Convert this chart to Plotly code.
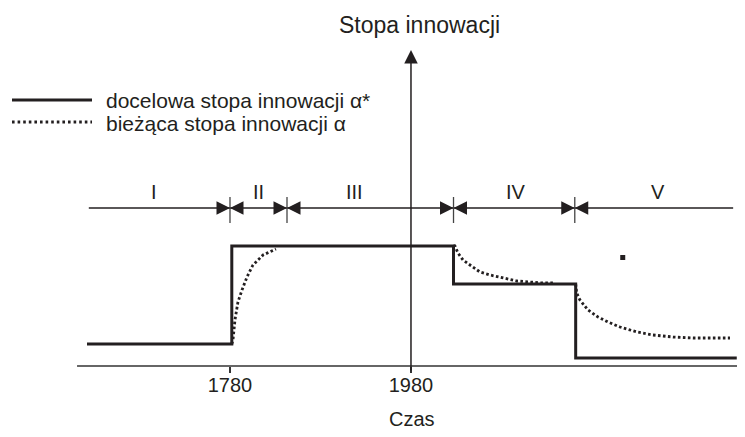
import plotly.graph_objects as go

# ---------------- data ----------------
# time axis (years, schematic) and innovation-rate level (arbitrary units)
tick_years = [1780, 1980]
tick_labels = ["1780", "1980"]

# target innovation rate  alpha*  (step function)
target_x = [1622, 1782, 1782, 2027, 2027, 2162, 2162, 2340]
target_y = [2.2, 2.2, 12.0, 12.0, 8.2, 8.2, 0.8, 0.8]

# current innovation rate  alpha  (three adjustment curves)
cur1_x = [1782, 1783.3, 1785.5, 1788.8, 1793.3, 1798.8, 1805.4, 1816.5, 1830.8]
cur1_y = [2.2, 2.6, 4.6, 6.4, 7.6, 8.9, 10.1, 11.1, 11.7]
cur2_x = [2027, 2028.6, 2031.9, 2037.5, 2045.2, 2056.2, 2067.3, 2081.7, 2097.1, 2111.5, 2125.9, 2136.9]
cur2_y = [12.0, 12.0, 11.3, 10.6, 10.1, 9.4, 9.1, 8.8, 8.5, 8.4, 8.3, 8.3]
cur3_x = [2162, 2163.1, 2166.7, 2175.6, 2186.6, 2197.7, 2211.0, 2229.7, 2247.4, 2269.5, 2291.6, 2313.7, 2332.5]
cur3_y = [8.2, 7.3, 6.6, 5.6, 4.9, 4.4, 3.9, 3.4, 3.1, 2.9, 2.8, 2.8, 2.8]

# phases
phase_start, phase_end = 1624, 2336
phase_level = 15.8
phase_separators = [1780, 1843, 2027, 2161]
phase_names = ["I", "II", "III", "IV", "V"]
phase_label_x = [1696, 1811, 1918, 2096, 2253]
phase_label_y = 17.4

# small square mark
mark_x, mark_y = [2214], [10.85]

# axes extents
xaxis_start, xaxis_end = 1611, 2348
yaxis_x, yaxis_bottom, yaxis_top = 1980, -0.6, 31.6

# figure is placed by the page 8 px from the top-left corner
W, H = 737, 429
x_range = [1534.7, 2349.1]
y_range = [-7.1, 35.8]

INK = "#231f20"
FONT = "Liberation Sans, Arial, sans-serif"


def px(v):
    return (v - 8) / W


def py(v):
    return 1 - (v - 8) / H


fig = go.Figure()

# x axis line + end tick
fig.add_trace(go.Scatter(x=[xaxis_start, xaxis_end], y=[0, 0], mode="lines",
                         line=dict(color="#333333", width=1.5), hoverinfo="skip", showlegend=False))
fig.add_trace(go.Scatter(x=[xaxis_end, xaxis_end], y=[-0.7, 0.7], mode="lines",
                         line=dict(color="#333333", width=1.5), hoverinfo="skip", showlegend=False))

# phase line with separators
fig.add_trace(go.Scatter(x=[phase_start, phase_end], y=[phase_level, phase_level], mode="lines",
                         line=dict(color=INK, width=1.5), hoverinfo="skip", showlegend=False))
sep_x, sep_y = [], []
for s in phase_separators:
    sep_x += [s, s, None]
    sep_y += [phase_level - 1.5, phase_level + 1.1, None]
fig.add_trace(go.Scatter(x=sep_x, y=sep_y, mode="lines",
                         line=dict(color="#444444", width=1.3), hoverinfo="skip", showlegend=False))

# current rate (dotted)
cur_x = cur1_x + [None] + cur2_x + [None] + cur3_x
cur_y = cur1_y + [None] + cur2_y + [None] + cur3_y
fig.add_trace(go.Scatter(x=cur_x, y=cur_y, mode="lines", connectgaps=False,
                         name="bieżąca stopa innowacji α",
                         line=dict(color=INK, width=2.8, dash="2.6px,2.4px"), showlegend=False))

# target rate (solid)
fig.add_trace(go.Scatter(x=target_x, y=target_y, mode="lines",
                         name="docelowa stopa innowacji α*",
                         line=dict(color=INK, width=3), showlegend=False))

# small square
fig.add_trace(go.Scatter(x=mark_x, y=mark_y, mode="markers",
                         marker=dict(symbol="square", size=5, color=INK), hoverinfo="skip",
                         showlegend=False))

annotations = []
# y axis arrow
annotations.append(dict(x=yaxis_x, y=yaxis_top, ax=yaxis_x, ay=yaxis_bottom,
                        xref="x", yref="y", axref="x", ayref="y", text="",
                        showarrow=True, arrowhead=2, arrowsize=1.8, arrowwidth=1.5,
                        arrowcolor=INK))
# phase arrowheads
for s in phase_separators:
    for off in (-14, 14):
        annotations.append(dict(x=s, y=phase_level, ax=off, ay=0, xref="x", yref="y",
                                text="", showarrow=True, arrowhead=2, arrowsize=1.8,
                                arrowwidth=1.5, arrowcolor=INK))
# phase labels
for name, lx in zip(phase_names, phase_label_x):
    annotations.append(dict(x=lx, y=phase_label_y, xref="x", yref="y", text=name,
                            showarrow=False, font=dict(family=FONT, size=20, color=INK)))
# y title
annotations.append(dict(x=1989, y=34.1, xref="x", yref="y", text="Stopa innowacji",
                        showarrow=False, font=dict(family=FONT, size=23, color=INK)))
# x title
annotations.append(dict(x=1981, y=-5.3, xref="x", yref="y", text="Czas",
                        showarrow=False, font=dict(family=FONT, size=20, color=INK)))
# legend texts
annotations.append(dict(x=px(104), y=py(100), xref="paper", yref="paper",
                        xanchor="left", yanchor="middle", text="docelowa stopa innowacji α*",
                        showarrow=False, font=dict(family=FONT, size=21, color=INK)))
annotations.append(dict(x=px(104), y=py(123), xref="paper", yref="paper",
                        xanchor="left", yanchor="middle", text="bieżąca stopa innowacji α",
                        showarrow=False, font=dict(family=FONT, size=21, color=INK)))

shapes = [
    dict(type="line", xref="paper", yref="paper", x0=px(12), x1=px(92),
         y0=py(100), y1=py(100), line=dict(color=INK, width=3)),
    dict(type="line", xref="paper", yref="paper", x0=px(12), x1=px(92),
         y0=py(122), y1=py(122), line=dict(color=INK, width=2.8, dash="2.6px,3px")),
]

fig.update_layout(
    width=W, height=H,
    margin=dict(l=0, r=0, t=0, b=0),
    paper_bgcolor="white", plot_bgcolor="white",
    showlegend=False,
    annotations=annotations, shapes=shapes,
    xaxis=dict(range=x_range, anchor="free",
               position=(0 - y_range[0]) / (y_range[1] - y_range[0]),
               tickvals=tick_years, ticktext=tick_labels,
               ticks="outside", ticklen=6, tickwidth=1.5, tickcolor="#333333",
               ticklabelstandoff=-5,
               tickfont=dict(family=FONT, size=20, color=INK),
               showline=False, showgrid=False, zeroline=False, automargin=False,
               fixedrange=True),
    yaxis=dict(range=y_range, visible=False, showgrid=False, zeroline=False,
               automargin=False, fixedrange=True),
)

fig.write_html("out.html")
